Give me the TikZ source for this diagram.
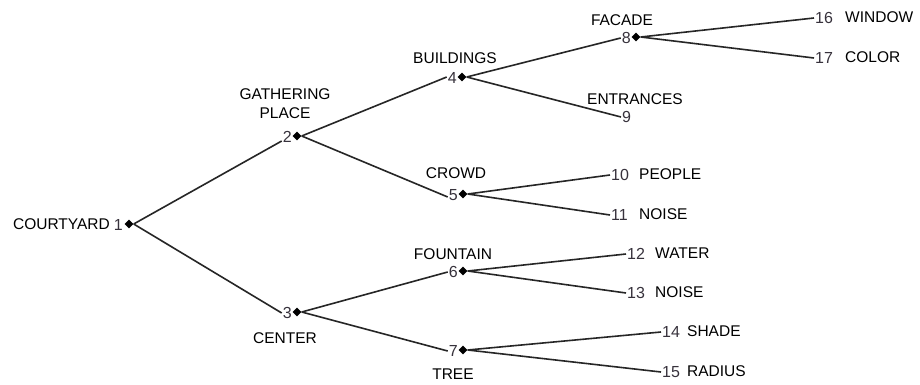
\documentclass[tikz,border=0pt]{standalone}
\usepackage{fontspec}
\setmainfont{Liberation Sans}
\usetikzlibrary{shapes.geometric}
\definecolor{numcol}{RGB}{55,50,60}
\tikzset{
  dot/.style={diamond,fill=black,inner sep=0pt,minimum size=9pt},
  num/.style={inner sep=1pt,text=numcol,font=\fontsize{16}{17}\selectfont},
  lab/.style={inner sep=1pt,font=\fontsize{15.5}{19}\selectfont,align=center},
  edge/.style={line width=1.6pt,black!85}
}
\begin{document}
\begin{tikzpicture}[x=1pt,y=-1pt]
\useasboundingbox[fill=white] (0,0) rectangle (920,385);
% internal nodes with diamonds
\node[dot] (d1) at (129,224) {};
\node[num,anchor=east] (n1) at (124,225) {1};
\node[lab,anchor=east] (l1) at (111,224) {COURTYARD};

\node[dot] (d2) at (297,136) {};
\node[num,anchor=east] (n2) at (293,137) {2};
\node[lab] (l2) at (285,104) {GATHERING\\PLACE};

\node[dot] (d3) at (297,312) {};
\node[num,anchor=east] (n3) at (293,313) {3};
\node[lab] (l3) at (285,338) {CENTER};

\node[dot] (d4) at (462,77) {};
\node[num,anchor=east] (n4) at (458,78) {4};
\node[lab] (l4) at (455,58) {BUILDINGS};

\node[dot] (d5) at (463,194) {};
\node[num,anchor=east] (n5) at (459,195) {5};
\node[lab] (l5) at (456,173) {CROWD};

\node[dot] (d6) at (463,271) {};
\node[num,anchor=east] (n6) at (459,272) {6};
\node[lab] (l6) at (453,254) {FOUNTAIN};

\node[dot] (d7) at (463,350) {};
\node[num,anchor=east] (n7) at (459,351) {7};
\node[lab] (l7) at (453,374) {TREE};

\node[dot] (d8) at (636,37) {};
\node[num,anchor=east] (n8) at (632,38) {8};
\node[lab] (l8) at (622,20) {FACADE};

% leaves
\node[num,anchor=west] (n9) at (621,117) {9};
\node[lab] (l9) at (635,99) {ENTRANCES};

\node[num,anchor=west] (n10) at (610,175) {10};
\node[lab,anchor=west] (l10) at (638,174) {PEOPLE};
\node[num,anchor=west] (n11) at (610,215) {11};
\node[lab,anchor=west] (l11) at (638,214) {NOISE};

\node[num,anchor=west] (n12) at (626,254) {12};
\node[lab,anchor=west] (l12) at (654,253) {WATER};
\node[num,anchor=west] (n13) at (626,293) {13};
\node[lab,anchor=west] (l13) at (654,292) {NOISE};

\node[num,anchor=west] (n14) at (661,332) {14};
\node[lab,anchor=west] (l14) at (686,331) {SHADE};
\node[num,anchor=west] (n15) at (661,372) {15};
\node[lab,anchor=west] (l15) at (686,371) {RADIUS};

\node[num,anchor=west] (n16) at (814,18) {16};
\node[lab,anchor=west] (l16) at (844,17) {WINDOW};
\node[num,anchor=west] (n17) at (814,58) {17};
\node[lab,anchor=west] (l17) at (844,57) {COLOR};

% connectors
\draw[edge] (d1.east) -- ([yshift=-4pt]n2.west);
\draw[edge] (d1.east) -- (n3.west);
\draw[edge] (d2.east) -- ([yshift=1pt]n4.west);
\draw[edge] (d2.east) -- ([yshift=-2pt]n5.west);
\draw[edge] (d3.east) -- (n6.west);
\draw[edge] (d3.east) -- (n7.west);
\draw[edge] (d4.east) -- (n8.west);
\draw[edge] (d4.east) -- (n9.west);
\draw[edge] (d5.east) -- (n10.west);
\draw[edge] (d5.east) -- (n11.west);
\draw[edge] (d6.east) -- (n12.west);
\draw[edge] (d6.east) -- (n13.west);
\draw[edge] (d7.east) -- (n14.west);
\draw[edge] (d7.east) -- (n15.west);
\draw[edge] (d8.east) -- (n16.west);
\draw[edge] (d8.east) -- (n17.west);
\end{tikzpicture}
\end{document}
